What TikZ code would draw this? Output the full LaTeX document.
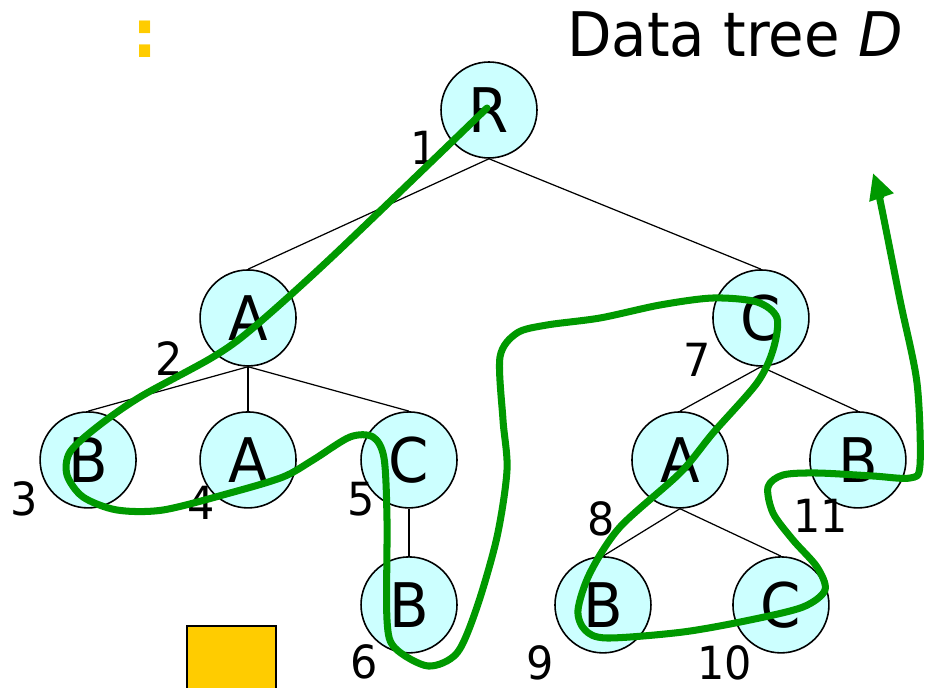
\documentclass[tikz,border=0pt]{standalone}
\usepackage{fontspec}
\setmainfont{DejaVu Sans}[FakeStretch=0.94]
\usepackage{tikz}
\usetikzlibrary{arrows.meta,positioning}
\definecolor{cian}{HTML}{CCFFFF}
\definecolor{verde}{HTML}{009900}
\definecolor{amarillo}{HTML}{FFCC00}

\begin{document}
\begin{tikzpicture}[x=0.02cm, y=-0.02cm, on grid,
  nodo/.style={circle, draw=black, line width=0.9pt, fill=cian, minimum size=1.92cm, inner sep=0pt, font=\fontsize{35}{40}\selectfont},
  num/.style={inner sep=0pt, font=\fontsize{26}{30}\selectfont},
  arista/.style={black, line width=0.7pt},
  recorrido/.style={verde, line width=4pt, line cap=round, line join=round, -{Triangle[length=0.52cm, width=0.48cm]}}]
\useasboundingbox (0,0) rectangle (929,688);
\node[amarillo, inner sep=0pt, font=\fontsize{38}{44}\bfseries] (dospuntos) at (145,39) {:};
\node[inner sep=0pt, font=\fontsize{35}{40}\selectfont] (titulo) at (735,35) {Data tree \textit{D}};
\draw[fill=amarillo, line width=0.6pt] (187,626) rectangle (276,700);
% arbol
\node[nodo] (R) at (489,110) {R};
\node[nodo, below left=4.16cm and 4.82cm of R] (a2) {A};
\node[nodo, below right=4.16cm and 5.44cm of R] (c7) {C};
\node[nodo, below left=2.84cm and 3.2cm of a2] (b3) {B};
\node[nodo, below=2.84cm of a2] (a4) {A};
\node[nodo, below right=2.84cm and 3.22cm of a2] (c5) {C};
\node[nodo, below=2.9cm of c5] (b6) {B};
\node[nodo, below left=2.84cm and 1.62cm of c7] (a8) {A};
\node[nodo, below right=2.84cm and 1.94cm of c7] (b11) {B};
\node[nodo, below left=2.9cm and 1.54cm of a8] (b9) {B};
\node[nodo, below right=2.9cm and 2.02cm of a8] (c10) {C};
\draw[arista] (R.south) -- (a2.north); \draw[arista] (R.south) -- (c7.north);
\draw[arista] (a2.south) -- (b3.north); \draw[arista] (a2.south) -- (a4.north); \draw[arista] (a2.south) -- (c5.north);
\draw[arista] (c5.south) -- (b6.north);
\draw[arista] (c7.south) -- (a8.north); \draw[arista] (c7.south) -- (b11.north);
\draw[arista] (a8.south) -- (b9.north); \draw[arista] (a8.south) -- (c10.north);
% numeracion
\node[num, below left=0.76cm and 1.3cm of R] (n1) {1};
\node[num, below left=0.82cm and 1.58cm of a2] (n2) {2};
\node[num, below left=0.78cm and 1.28cm of b3] (n3) {3};
\node[num, below left=0.86cm and 0.94cm of a4] (n4) {4};
\node[num, below left=0.78cm and 0.96cm of c5] (n5) {5};
\node[num, below left=1.14cm and 0.9cm of b6] (n6) {6};
\node[num, below left=0.84cm and 1.28cm of c7] (n7) {7};
\node[num, below left=1.18cm and 1.58cm of a8] (n8) {8};
\node[num, below left=1.16cm and 1.26cm of b9] (n9) {9};
\node[num, below left=1.16cm and 1.12cm of c10] (n10) {10};
\node[num, below left=1.12cm and 0.74cm of b11] (n11) {11};
% recorrido
\draw[recorrido] plot[smooth, tension=0.5] coordinates {
  (487,108) (333,256) (253,328) (213,357) (140,397)
  (97,427) (70,452) (67,475) (83,497) (117,510) (163,510) (230,493) (283,477)
  (313,460) (350,437) (373,437) (384,458) (387,520) (387,620) (395,648) (428,666)
  (457,653) (477,607) (497,537) (507,470) (503,420) (500,357) (517,333) (547,325)
  (600,318) (660,305) (713,298) (757,302) (777,318) (773,350) (757,383) (713,433)
  (680,473) (620,527) (590,573) (578,610) (585,630) (607,638) (683,632) (750,620)
  (803,607) (825,590) (817,567) (793,540) (773,513) (768,487) (783,475) (817,473)
  (873,476) (910,478) (920,465) (917,383) (900,300) (880,200) (873,173)};
\end{tikzpicture}
\end{document}
